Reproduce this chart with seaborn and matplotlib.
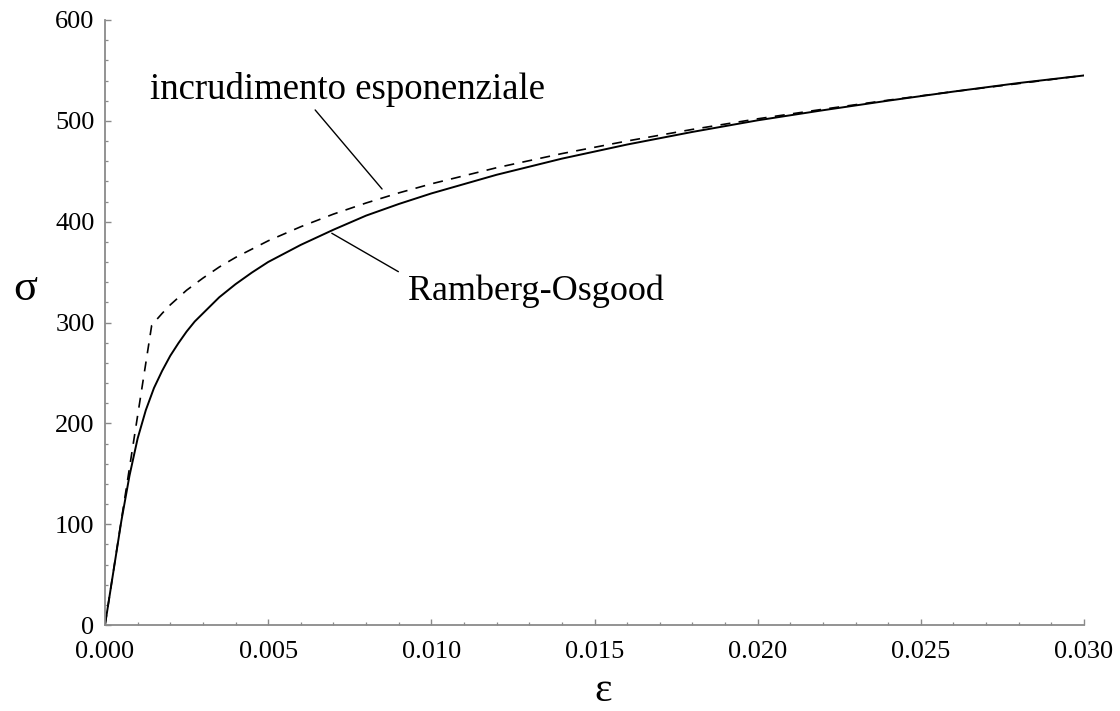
import matplotlib
matplotlib.use("Agg")
import matplotlib.pyplot as plt
from matplotlib.ticker import MultipleLocator, FormatStrFormatter
import seaborn as sns
import pandas as pd

# Ramberg-Osgood stress-strain curve (strain, stress in MPa)
strain_ro = [0, 0.0005, 0.00075, 0.001, 0.00125, 0.0015, 0.00175, 0.002, 0.00225,
             0.0025, 0.00275, 0.003, 0.0035, 0.004, 0.0045, 0.005, 0.006, 0.007,
             0.008, 0.009, 0.010, 0.012, 0.014, 0.016, 0.018, 0.020, 0.022, 0.024,
             0.026, 0.028, 0.030]
stress_ro = [0, 103, 148, 185, 213, 235, 252, 267, 279.5,
             291, 301, 309, 325, 338, 349.5, 360, 377, 392,
             406, 417.5, 428, 446.5, 462.5, 476.5, 489, 500.5, 510.5, 520,
             529, 537.5, 545]

# Elastic branch followed by exponential (power-law) hardening
strain_exp = [0, 0.00143, 0.00160, 0.00175, 0.002, 0.0025, 0.003, 0.0035, 0.004,
              0.005, 0.006, 0.007, 0.008, 0.009, 0.010, 0.012, 0.014, 0.016,
              0.018, 0.020, 0.022, 0.024, 0.026, 0.028, 0.030]
stress_exp = [0, 297, 303.5, 309, 317.5, 332, 344, 355, 364.5,
              381, 395, 407.5, 418.5, 428.5, 437.5, 453.5, 467.5, 480,
              491.5, 502, 511.5, 520.5, 529, 537, 545]

x_ticks = [0.000, 0.005, 0.010, 0.015, 0.020, 0.025, 0.030]
y_ticks = [0, 100, 200, 300, 400, 500, 600]

sns.set_style("ticks")
plt.rcParams["font.family"] = ["Liberation Serif", "DejaVu Serif"]
plt.rcParams["text.color"] = "black"
plt.rcParams["xtick.labelcolor"] = "black"
plt.rcParams["ytick.labelcolor"] = "black"

W, H = 1120, 711
fig = plt.figure(figsize=(W / 100, H / 100), dpi=100)
ax = fig.add_axes([105 / W, 1 - 625 / H, (1084 - 105) / W, (625 - 20) / H])

df_ro = pd.DataFrame({"eps": strain_ro, "sigma": stress_ro})
df_exp = pd.DataFrame({"eps": strain_exp, "sigma": stress_exp})

sns.lineplot(data=df_ro, x="eps", y="sigma", ax=ax, color="black", lw=1.4,
             estimator=None, sort=False)
sns.lineplot(data=df_exp, x="eps", y="sigma", ax=ax, color="black", lw=1.2,
             estimator=None, sort=False)
ax.lines[-1].set_dashes((6, 5))

ax.set_xlim(0, 0.030)
ax.set_ylim(0, 600)
ax.set_xticks(x_ticks)
ax.set_yticks(y_ticks)
ax.xaxis.set_minor_locator(MultipleLocator(0.001))
ax.yaxis.set_minor_locator(MultipleLocator(20))
ax.xaxis.set_major_formatter(FormatStrFormatter("%.3f"))
ax.yaxis.set_major_formatter(FormatStrFormatter("%d"))

for side in ("top", "right"):
    ax.spines[side].set_visible(False)
for side in ("left", "bottom"):
    ax.spines[side].set_color("#8a8a8a")
    ax.spines[side].set_linewidth(1.3)

ax.tick_params(which="major", direction="in", length=4, width=1.0, color="#8a8a8a",
               labelsize=19, labelcolor="black")
ax.tick_params(axis="x", which="major", pad=11.5)
ax.tick_params(axis="y", which="major", pad=7.5)
ax.tick_params(which="minor", direction="in", length=2.5, width=0.9, color="#8a8a8a")
ax.set_xlabel("")
ax.set_ylabel("")

# curve annotations with leader lines
ax.text(0.00138, 521.7, "incrudimento esponenziale", fontsize=26.5,
        ha="left", va="baseline", color="black")
ax.annotate("", xy=(0.00849, 432.4), xytext=(0.00644, 510.8),
            arrowprops=dict(arrowstyle="-", lw=1.0, color="black",
                            shrinkA=0, shrinkB=0))
ax.text(0.00929, 322, "Ramberg-Osgood", fontsize=26,
        ha="left", va="baseline", color="black")
ax.annotate("", xy=(0.00695, 388.5), xytext=(0.00899, 350.4),
            arrowprops=dict(arrowstyle="-", lw=1.0, color="black",
                            shrinkA=0, shrinkB=0))

# axis symbols
fig.text(25 / W, 1 - 300 / H, "σ", fontsize=32, ha="center", va="baseline",
         color="black")
fig.text(603 / W, 1 - 710 / H, "ε", fontsize=30, ha="center", va="bottom",
         color="black")

fig.savefig("out.png", dpi=100)
